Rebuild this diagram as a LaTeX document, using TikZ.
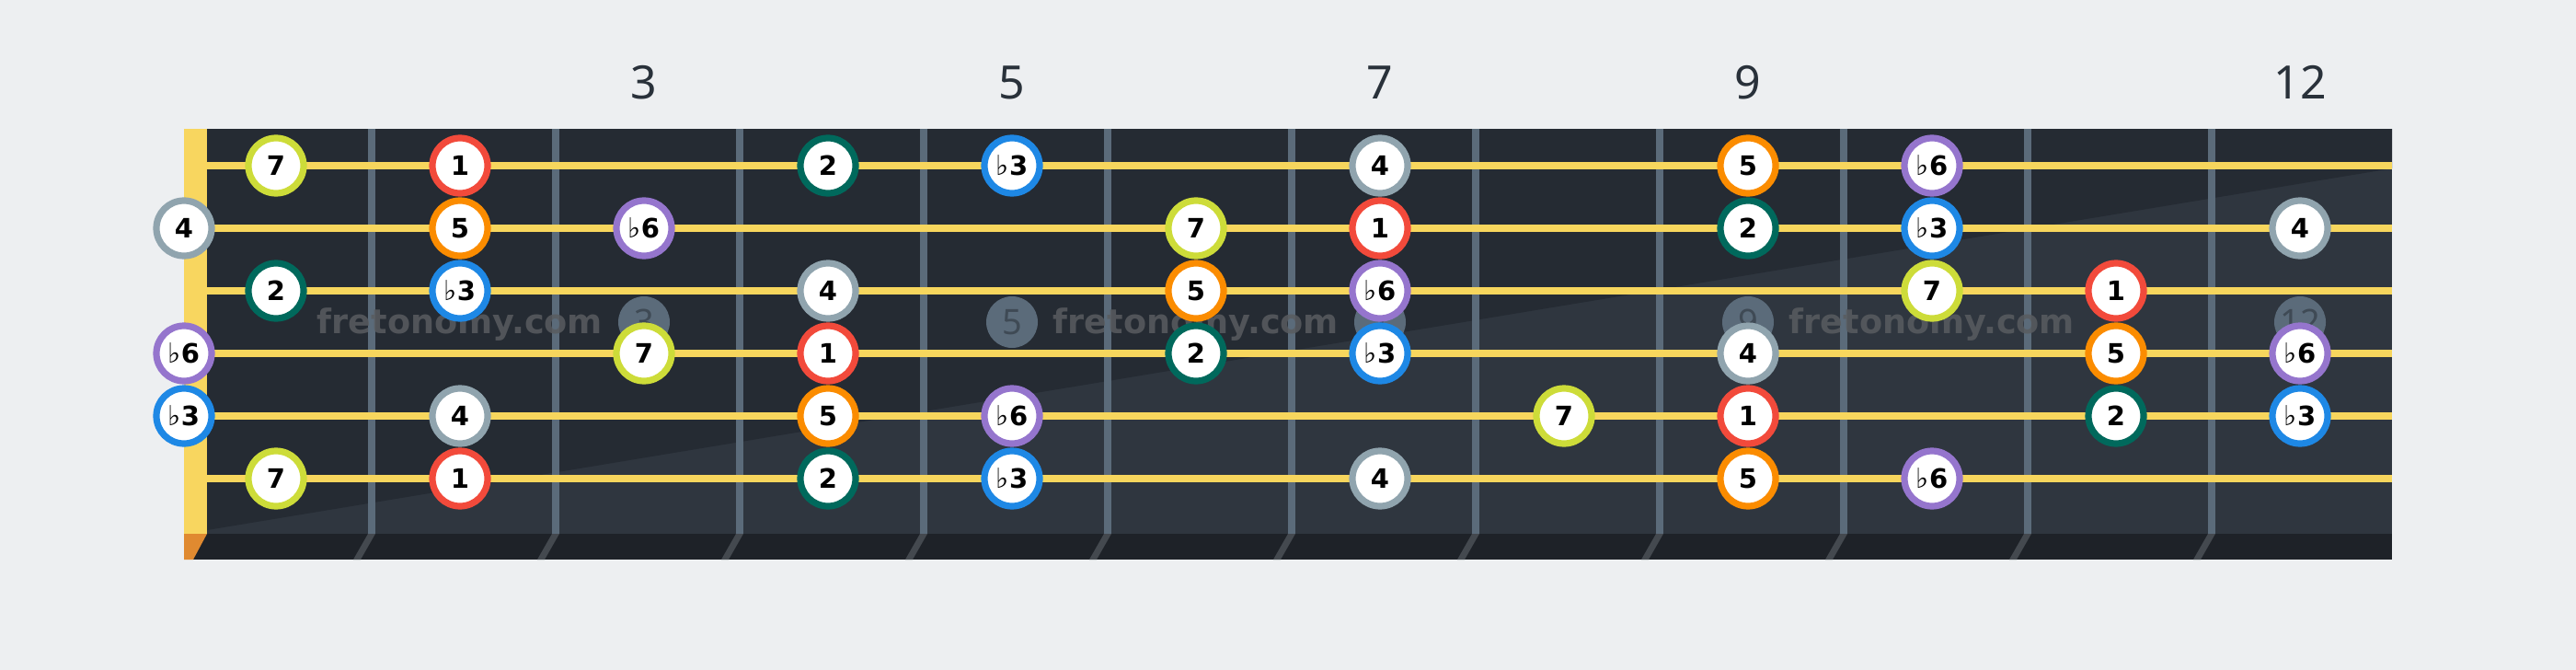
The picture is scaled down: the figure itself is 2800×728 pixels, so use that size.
\documentclass[tikz,border=0pt]{standalone}
\usepackage{fontspec}
\setmainfont{DejaVu Sans}
\newfontfamily\numfont{Noto Sans}
\newfontfamily\notefont{DejaVu Sans}
\definecolor{bg}{HTML}{EDEFF1}
\definecolor{boardlight}{HTML}{2F363F}
\definecolor{boarddark}{HTML}{252B33}
\definecolor{stripc}{HTML}{1E2228}
\definecolor{shadowc}{HTML}{44494F}
\definecolor{fretc}{HTML}{5B6B7A}
\definecolor{stringc}{HTML}{F7D65D}
\definecolor{nutc}{HTML}{F8D65F}
\definecolor{nutshadow}{HTML}{E08A30}
\definecolor{labelc}{HTML}{29313A}
\definecolor{inlaytext}{HTML}{3F4A55}
\definecolor{wmc}{HTML}{595C60}
\definecolor{c1}{HTML}{F24A3B}
\definecolor{c2}{HTML}{00695C}
\definecolor{cb3}{HTML}{1E88E5}
\definecolor{c4}{HTML}{90A4AE}
\definecolor{c5}{HTML}{FB8C00}
\definecolor{cb6}{HTML}{9575CD}
\definecolor{c7}{HTML}{CDDC39}
\newcommand\flatsym{{\notefont\mdseries\fontsize{15}{15}\selectfont ♭}}
\tikzset{
  note/.style={circle, fill=white, line width=3.6pt, minimum size=30pt, inner sep=0pt,
    font=\notefont\bfseries\fontsize{14.5}{14.5}\selectfont, text=black,
    text height=10.5pt, text depth=0pt},
  deg1/.style={note, draw=c1, node contents={1}},
  deg2/.style={note, draw=c2, node contents={2}},
  degb3/.style={note, draw=cb3, node contents={\flatsym3}},
  deg4/.style={note, draw=c4, node contents={4}},
  deg5/.style={note, draw=c5, node contents={5}},
  degb6/.style={note, draw=cb6, node contents={\flatsym6}},
  deg7/.style={note, draw=c7, node contents={7}},
  fretlabel/.style={font=\numfont\fontsize{25}{25}\selectfont, text=labelc, inner sep=0pt,
    text height=18pt, text depth=0pt},
  inlay/.style={circle, fill=fretc, minimum size=28pt, inner sep=0pt,
    font=\numfont\fontsize{19}{19}\selectfont, text=inlaytext, text height=13.6pt, text depth=0pt},
  watermark/.style={font=\notefont\bfseries\fontsize{18.3}{18.3}\selectfont, text=wmc,
    text opacity=0.85, inner sep=0pt, anchor=base},
  stringline/.style={draw=stringc, line width=4pt},
}
\begin{document}
\begin{tikzpicture}[x=0.5pt,y=-0.5pt]
\useasboundingbox (0,0) rectangle (2800,728);
\fill[bg] (0,0) rectangle (2800,728);
% board
\fill[boardlight] (200,140) rectangle (2600,580);
\fill[boarddark] (225,140) -- (2600,140) -- (2600,183) -- (225,576) -- cycle;
% bottom strip
\fill[stripc] (200,580) rectangle (2600,608);
\foreach \n in {2,...,12}{
  \fill[shadowc] (200*\n,580) -- (200*\n+8,580) -- (200*\n-8,608) -- (200*\n-16,608) -- cycle;
}
% frets
\foreach \n in {2,...,12}{
  \fill[fretc] (200*\n,140) rectangle (200*\n+8,580);
}
% nut
\fill[nutc] (200,140) rectangle (225,580);
\fill[nutshadow] (200,580) -- (225,580) -- (210,608) -- (200,608) -- cycle;
% inlays
\foreach \f in {3,5,7,9,12}{
  \node[inlay] (in\f) at (200*\f+100,350) {\f};
}
% watermarks
\foreach \x [count=\i] in {500,1300,2100}{
  \node[watermark] (wm\i) at (\x,362) {fretonomy.com};
}
% strings
\foreach \s in {1,...,6}{
  \coordinate (s\s a) at (225,180+68*\s-68);
  \coordinate (s\s b) at (2600,180+68*\s-68);
  \draw[stringline] (s\s a) -- (s\s b);
}
% fret labels
\foreach \f in {3,5,7,9,12}{
  \node[fretlabel] (fl\f) at (200*\f+100,89) {\f};
}
% notes
\foreach \s/\f/\d in {
  1/1/7, 1/2/1, 1/4/2, 1/5/b3, 1/7/4, 1/9/5, 1/10/b6,
  2/0/4, 2/2/5, 2/3/b6, 2/6/7, 2/7/1, 2/9/2, 2/10/b3, 2/12/4,
  3/1/2, 3/2/b3, 3/4/4, 3/6/5, 3/7/b6, 3/10/7, 3/11/1,
  4/0/b6, 4/3/7, 4/4/1, 4/6/2, 4/7/b3, 4/9/4, 4/11/5, 4/12/b6,
  5/0/b3, 5/2/4, 5/4/5, 5/5/b6, 5/8/7, 5/9/1, 5/11/2, 5/12/b3,
  6/1/7, 6/2/1, 6/4/2, 6/5/b3, 6/7/4, 6/9/5, 6/10/b6}{
  \pgfmathsetmacro\xx{\f==0 ? 200 : 200*\f+100}
  \pgfmathsetmacro\yy{180+68*(\s-1)}
  \node[deg\d, name=n\s-\f, at={(\xx,\yy)}];
}
\end{tikzpicture}
\end{document}
